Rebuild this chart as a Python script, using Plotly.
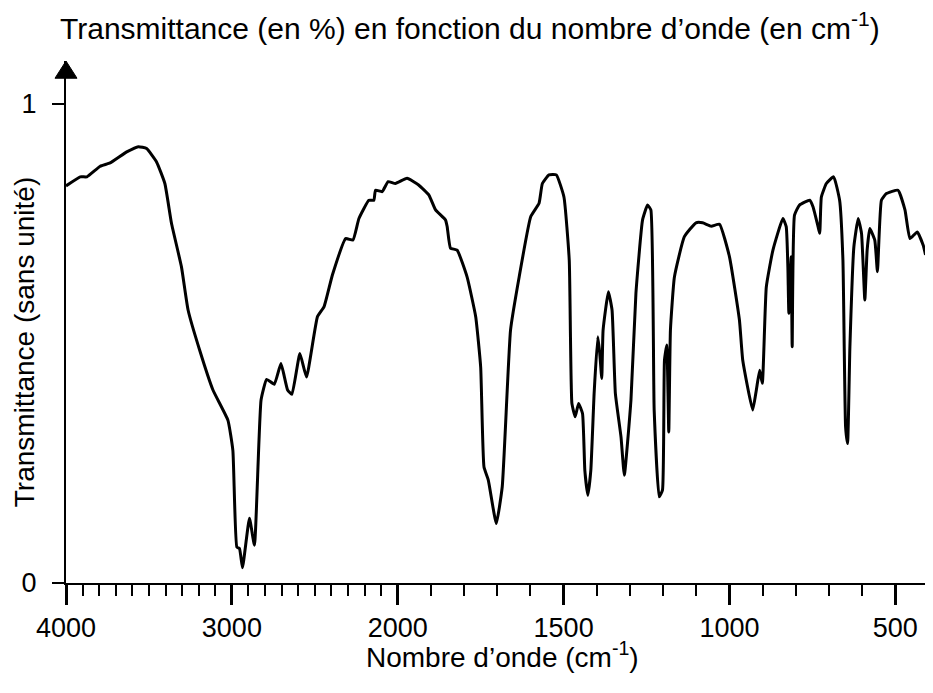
import plotly.graph_objects as go

# ---- data ----
wavenumber = [4000, 3914, 3874, 3794, 3734, 3634, 3564, 3514, 3454, 3404, 3364, 3304, 3264, 3194,
              3114, 3024, 2994, 2970, 2954, 2936, 2894, 2864, 2824, 2790, 2744, 2704, 2664, 2638,
              2590, 2550, 2484, 2444, 2394, 2314, 2270, 2234, 2174, 2144, 2134, 2094, 2058, 2014,
              1972, 1937, 1906, 1886, 1856, 1851, 1841, 1821, 1791, 1765, 1750, 1740, 1727, 1703,
              1685, 1660, 1634, 1599, 1574, 1564, 1544, 1522, 1499, 1483, 1475, 1465, 1455, 1443,
              1436, 1427, 1418, 1408, 1397, 1391, 1385, 1381, 1365, 1354, 1344, 1327, 1317, 1297,
              1282, 1262, 1247, 1237, 1227, 1212, 1202, 1196, 1189, 1183, 1178, 1166, 1136, 1101,
              1081, 1055, 1030, 1000, 970, 960, 930, 919, 909, 901, 889, 869, 839, 829, 824, 821,
              814, 811, 804, 789, 758, 748, 733, 728, 723, 708, 686, 668, 658, 650, 644, 637, 625,
              612, 602, 592, 585, 577, 562, 554, 542, 527, 492, 471, 456, 434, 416, 409]
transmittance = [0.829, 0.848, 0.848, 0.870, 0.877, 0.900, 0.911, 0.907, 0.879, 0.834, 0.751, 0.660,
                 0.570, 0.486, 0.403, 0.340, 0.277, 0.075, 0.072, 0.032, 0.135, 0.079, 0.382, 0.425,
                 0.415, 0.458, 0.403, 0.394, 0.479, 0.430, 0.556, 0.577, 0.643, 0.719, 0.716, 0.761,
                 0.799, 0.799, 0.820, 0.817, 0.838, 0.834, 0.845, 0.831, 0.810, 0.779, 0.758, 0.744,
                 0.699, 0.695, 0.639, 0.556, 0.451, 0.242, 0.215, 0.124, 0.201, 0.528, 0.639, 0.765,
                 0.793, 0.834, 0.852, 0.852, 0.806, 0.674, 0.375, 0.347, 0.375, 0.354, 0.235, 0.183,
                 0.235, 0.396, 0.514, 0.479, 0.427, 0.528, 0.608, 0.570, 0.396, 0.305, 0.225, 0.382,
                 0.605, 0.758, 0.789, 0.779, 0.361, 0.180, 0.194, 0.465, 0.497, 0.315, 0.528, 0.639,
                 0.723, 0.752, 0.752, 0.745, 0.749, 0.681, 0.549, 0.465, 0.361, 0.403, 0.444, 0.417,
                 0.618, 0.695, 0.761, 0.744, 0.660, 0.563, 0.681, 0.493, 0.768, 0.789, 0.799, 0.785,
                 0.744, 0.730, 0.806, 0.834, 0.848, 0.799, 0.674, 0.326, 0.291, 0.493, 0.702, 0.761,
                 0.730, 0.591, 0.695, 0.740, 0.716, 0.650, 0.799, 0.813, 0.820, 0.779, 0.719, 0.733,
                 0.705, 0.685]
major_ticks = [4000, 3000, 2000, 1500, 1000, 500]
minor_ticks = [3900, 3800, 3700, 3600, 3500, 3400, 3300, 3200, 3100,
               2900, 2800, 2700, 2600, 2500, 2400, 2300, 2200, 2100,
               1900, 1800, 1700, 1600, 1400, 1300, 1200, 1100,
               900, 800, 700, 600]
y_ticks = [0, 1]


# IR-spectrum axis: scale doubles below 2000 cm-1
def axis_pos(w):
    return (4000 - w) if w >= 2000 else 2000 + 2 * (2000 - w)


xs = [axis_pos(w) for w in wavenumber]

fig = go.Figure()
fig.add_trace(go.Scatter(x=xs, y=transmittance, mode="lines",
                         line=dict(color="black", width=3, shape="spline", smoothing=0.4),
                         hoverinfo="skip", showlegend=False))

FONT = "Arial, Liberation Sans, sans-serif"
# the page body has an 8px margin, so the figure is 8px smaller and margins shifted
fig.update_layout(
    width=925, height=685,
    margin=dict(l=58, r=0, t=53, b=110, autoexpand=False),
    paper_bgcolor="white", plot_bgcolor="white",
    font=dict(family=FONT, color="black", size=22),
    xaxis=dict(range=[0, 5227], showgrid=False, zeroline=False, automargin=False,
               showline=True, linecolor="black", linewidth=2,
               tickmode="array", tickvals=[axis_pos(t) for t in major_ticks],
               ticktext=[str(t) for t in major_ticks],
               ticks="outside", ticklen=20, tickwidth=3, tickcolor="black",
               tickfont=dict(size=27, family=FONT), ticklabelstandoff=0,
               minor=dict(tickmode="array", tickvals=[axis_pos(t) for t in minor_ticks],
                          ticks="outside", ticklen=11, tickwidth=2, tickcolor="black",
                          showgrid=False)),
    yaxis=dict(range=[0, 1.0898], showgrid=False, zeroline=False, automargin=False,
               showline=True, linecolor="black", linewidth=2,
               tickmode="array", tickvals=y_ticks, ticktext=[str(t) for t in y_ticks],
               ticks="outside", ticklen=12, tickwidth=2, tickcolor="black",
               tickfont=dict(size=27, family=FONT), ticklabelstandoff=10),
)

# arrow head on the y axis
fig.add_shape(type="path", xref="paper", yref="paper",
              path="M -0.0127 0.967 L 0.0127 0.967 L 0 1.0 Z",
              fillcolor="black", line=dict(color="black", width=1))

fig.add_annotation(text="Transmittance (en %) en fonction du nombre d’onde (en cm<sup>-1</sup>)",
                   xref="paper", yref="paper", x=0.466, y=1.067, showarrow=False,
                   xanchor="center", yanchor="middle", font=dict(size=30, family=FONT))
fig.add_annotation(text="Nombre d’onde (cm<sup>-1</sup>)",
                   xref="paper", yref="paper", x=0.503, y=-0.1386, showarrow=False,
                   xanchor="center", yanchor="middle", font=dict(size=28, family=FONT))
fig.add_annotation(text="Transmittance (sans unité)",
                   xref="paper", yref="paper", x=-0.048, y=0.462, showarrow=False,
                   textangle=-90, xanchor="center", yanchor="middle", font=dict(size=28, family=FONT))

fig.write_html("out.html")
